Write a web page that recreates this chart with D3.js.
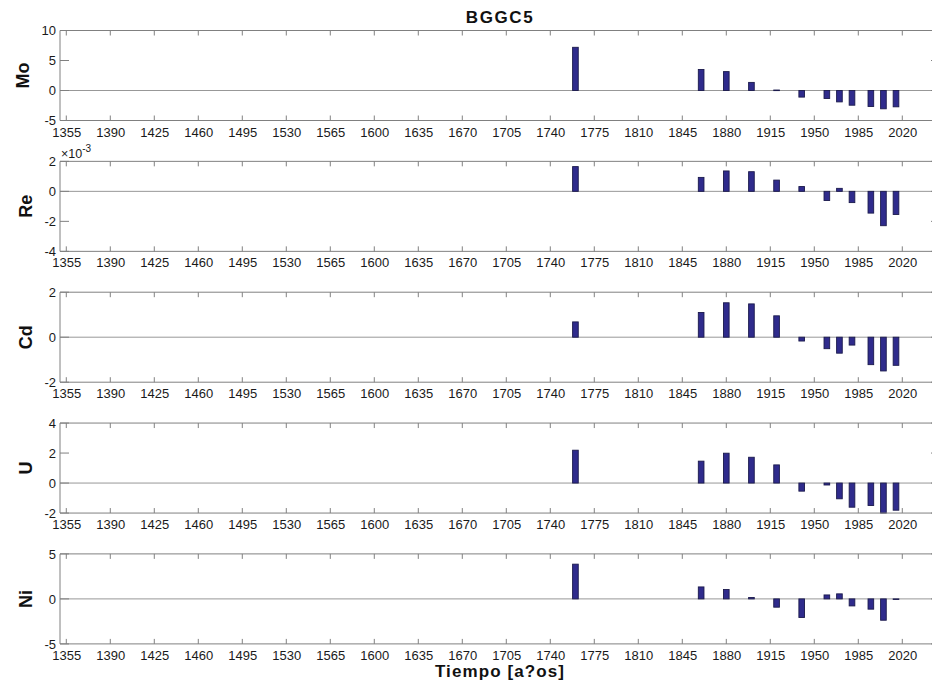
<!DOCTYPE html>
<html>
<head>
<meta charset="utf-8">
<script src="https://cdn.jsdelivr.net/npm/d3@7"></script>
<style>
  html, body { margin: 0; padding: 0; background: #fff; }
  svg { display: block; font-family: "Liberation Sans", Arial, Helvetica, sans-serif; }
</style>
</head>
<body>
<svg id="chart" width="932" height="684"></svg>
<script>
// Sample years (one bar per dated layer)
const years = [1760, 1860, 1880, 1900, 1920, 1940, 1960, 1970, 1980, 1995, 2005, 2015];

// Element series
const moValues = [7.2, 3.5, 3.15, 1.35, 0.08, -1.1, -1.33, -1.9, -2.45, -2.67, -3.05, -2.72];
const reValues = [1.65e-3, 0.93e-3, 1.36e-3, 1.31e-3, 0.75e-3, 0.32e-3, -0.61e-3, 0.2e-3, -0.75e-3, -1.45e-3, -2.29e-3, -1.54e-3];
const cdValues = [0.68, 1.1, 1.53, 1.48, 0.95, -0.17, -0.51, -0.71, -0.35, -1.22, -1.5, -1.25];
const uValues  = [2.19, 1.46, 1.99, 1.72, 1.21, -0.54, -0.13, -1.05, -1.61, -1.5, -2.0, -1.81];
const niValues = [3.86, 1.33, 1.04, 0.15, -0.92, -2.07, 0.44, 0.56, -0.78, -1.14, -2.37, -0.05];

// Axis settings
const xDomain = [1350, 2050];
const xTicks = [1355, 1390, 1425, 1460, 1495, 1530, 1565, 1600, 1635, 1670, 1705, 1740, 1775, 1810, 1845, 1880, 1915, 1950, 1985, 2020];
const panelNames = ["Mo", "Re", "Cd", "U", "Ni"];
const panelSeries = [moValues, reValues, cdValues, uValues, niValues];
const yDomains = [[-5, 10], [-4e-3, 2e-3], [-2, 2], [-2, 4], [-5, 5]];
const yTicks = [[-5, 0, 5, 10], [-4e-3, -2e-3, 0, 2e-3], [-2, 0, 2], [-2, 0, 2, 4], [-5, 0, 5]];
const yScaleFactor = [1, 1e-3, 1, 1, 1];
const barWidthYears = 4.5;

const svg = d3.select("#chart");
const left = 60, right = 940;
const panelTop0 = 30.5, panelStep = 130.85, panelH = 90;
const axisColor = "#808080", baseColor = "#989898";
const barFill = "#2f2b8c", barStroke = "#1b1a4c";
const textColor = "#1a1a1a";
const xTickLen = 5, yTickLen = 9;

const x = d3.scaleLinear().domain(xDomain).range([left, right]);

panelNames.forEach((name, i) => {
  const top = panelTop0 + i * panelStep;
  const bottom = top + panelH;
  const y = d3.scaleLinear().domain(yDomains[i]).range([bottom, top]);
  const g = svg.append("g");
  const vals = panelSeries[i];

  // zero baseline
  g.append("line")
    .attr("x1", left).attr("x2", right)
    .attr("y1", y(0)).attr("y2", y(0))
    .attr("stroke", baseColor).attr("stroke-width", 1);

  // bars
  g.selectAll("rect.bar").data(years.map((yr, k) => ({ yr, v: vals[k] })))
    .enter().append("rect")
    .attr("class", "bar")
    .attr("x", d => x(d.yr - barWidthYears / 2))
    .attr("width", d => x(d.yr + barWidthYears / 2) - x(d.yr - barWidthYears / 2))
    .attr("y", d => Math.min(y(d.v), y(0)))
    .attr("height", d => Math.max(0.6, Math.abs(y(d.v) - y(0))))
    .attr("fill", barFill)
    .attr("stroke", barStroke)
    .attr("stroke-width", 0.9);

  // box: top, bottom, left, right
  const box = [[left, top, right, top], [left, bottom, right, bottom], [left, top, left, bottom], [right, top, right, bottom]];
  box.forEach(b => g.append("line")
    .attr("x1", b[0]).attr("y1", b[1]).attr("x2", b[2]).attr("y2", b[3])
    .attr("stroke", axisColor).attr("stroke-width", 1));

  // x ticks on bottom and top edges
  xTicks.forEach(t => {
    g.append("line").attr("x1", x(t)).attr("x2", x(t))
      .attr("y1", bottom).attr("y2", bottom - xTickLen)
      .attr("stroke", axisColor);
    g.append("line").attr("x1", x(t)).attr("x2", x(t))
      .attr("y1", top).attr("y2", top + xTickLen)
      .attr("stroke", axisColor);
  });

  // x tick labels
  const xAxis = d3.axisBottom(x).tickValues(xTicks).tickFormat(d3.format("d")).tickSize(0).tickPadding(0);
  const xg = g.append("g").attr("transform", `translate(0,${bottom})`).call(xAxis);
  xg.select(".domain").remove();
  xg.selectAll("text")
    .attr("y", 16).attr("dy", null)
    .attr("font-size", 13).attr("fill", textColor)
    .attr("font-family", "'Liberation Sans', Arial, sans-serif");

  // y ticks on left and right edges
  yTicks[i].forEach(t => {
    g.append("line").attr("x1", left).attr("x2", left + yTickLen)
      .attr("y1", y(t)).attr("y2", y(t)).attr("stroke", axisColor);
    g.append("line").attr("x1", right).attr("x2", right - yTickLen)
      .attr("y1", y(t)).attr("y2", y(t)).attr("stroke", axisColor);
  });

  // y tick labels
  const yAxis = d3.axisLeft(y).tickValues(yTicks[i])
    .tickFormat(d => d3.format("d")(Math.round(d / yScaleFactor[i])).replace("−", "-"))
    .tickSize(0).tickPadding(0);
  const yg = g.append("g").attr("transform", `translate(${left - 4},0)`).call(yAxis);
  yg.select(".domain").remove();
  yg.selectAll("text")
    .attr("font-size", 13).attr("fill", textColor)
    .attr("font-family", "'Liberation Sans', Arial, sans-serif");

  // y label
  const labelX = i === 0 ? 29 : 31.5;
  g.append("text")
    .attr("transform", `translate(${labelX},${(top + bottom) / 2}) rotate(-90)`)
    .attr("text-anchor", "middle")
    .attr("font-size", 18).attr("font-weight", "bold").attr("fill", "#111")
    .text(name);

  // exponent note for scaled axis
  if (yScaleFactor[i] !== 1) {
    const ex = g.append("text")
      .attr("x", left + 1).attr("y", top - 3)
      .attr("font-size", 12.5).attr("fill", textColor);
    ex.append("tspan").text("\u00d710");
    ex.append("tspan").attr("dy", -6).attr("font-size", 10).text(String(Math.log10(yScaleFactor[i])));
  }
});

// title and x label
svg.append("text")
  .attr("x", (left + right) / 2).attr("y", 22.5)
  .attr("text-anchor", "middle")
  .attr("font-size", 17).attr("font-weight", "bold").attr("fill", "#111")
  .attr("letter-spacing", 1.6)
  .text("BGGC5");

svg.append("text")
  .attr("x", (left + right) / 2).attr("y", 677)
  .attr("text-anchor", "middle")
  .attr("font-size", 17).attr("font-weight", "bold").attr("fill", "#111")
  .attr("letter-spacing", 1.1)
  .text("Tiempo [a?os]");
</script>
</body>
</html>
